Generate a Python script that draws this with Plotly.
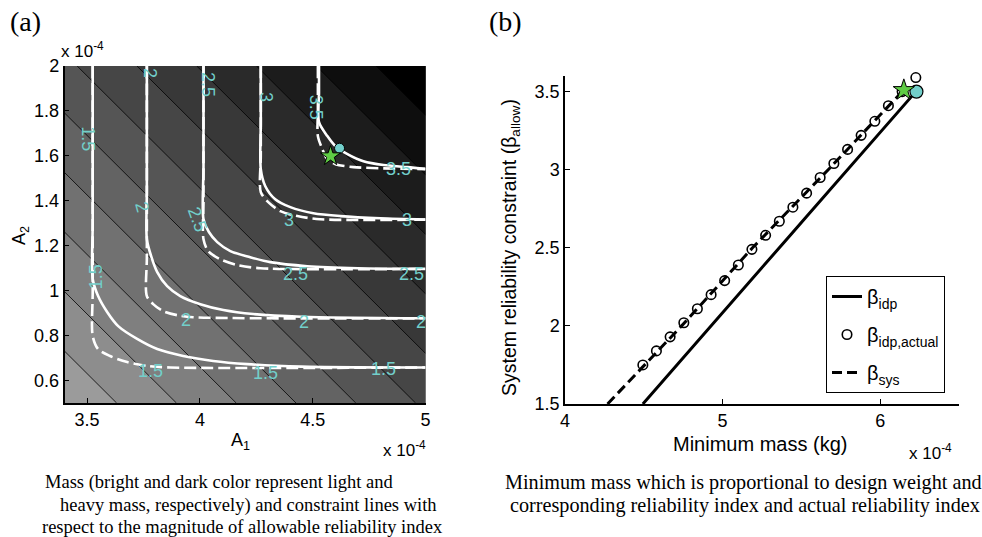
import plotly.graph_objects as go

# ---------------- Panel (a) data (areas in units of 1e-4) ----------------
a1_grid = [3.4, 5.0]
a2_grid = [0.5, 2.0]
mass_grid = [[3.9, 5.5],
             [5.4, 7.0]]           # mass field at grid corners (rows: A2)
mass_level_start = 4.131
mass_level_size = 0.265
mass_level_end = 6.781

# constraint lines: (A1, A2) traced points, solid = beta_idp, dashed = beta_sys
beta_levels = ["1.5", "2", "2.5", "3", "3.5"]
solid_a1 = {
    "1.5": [3.525, 3.525, 3.525, 3.549, 3.589, 3.638, 3.722, 3.811, 3.926, 4.059, 4.210, 4.45, 5.0],
    "2":   [3.765, 3.765, 3.765, 3.784, 3.811, 3.855, 3.913, 4.002, 4.104, 4.237, 4.45, 5.0],
    "2.5": [4.016, 4.016, 4.016, 4.040, 4.077, 4.135, 4.223, 4.312, 4.476, 4.70, 5.0],
    "3":   [4.270, 4.270, 4.270, 4.290, 4.334, 4.401, 4.503, 4.623, 4.80, 5.0],
    "3.5": [4.528, 4.528, 4.528, 4.565, 4.601, 4.654, 4.725, 4.814, 4.920, 5.0],
}
solid_a2 = {
    "1.5": [2.0, 1.30, 1.052, 0.976, 0.905, 0.842, 0.785, 0.740, 0.709, 0.687, 0.673, 0.662, 0.658],
    "2":   [2.0, 1.45, 1.229, 1.154, 1.083, 1.020, 0.976, 0.940, 0.914, 0.896, 0.884, 0.877],
    "2.5": [2.0, 1.55, 1.318, 1.261, 1.216, 1.176, 1.149, 1.127, 1.109, 1.100, 1.097],
    "3":   [2.0, 1.75, 1.541, 1.465, 1.407, 1.372, 1.345, 1.332, 1.322, 1.317],
    "3.5": [2.0, 1.88, 1.750, 1.688, 1.643, 1.608, 1.576, 1.559, 1.550, 1.542],
}
dashed_a1 = {
    "1.5": [3.525, 3.525, 3.525, 3.549, 3.602, 3.678, 3.766, 3.868, 5.0],
    "2":   [3.765, 3.765, 3.765, 3.793, 3.837, 3.899, 3.970, 5.0],
    "2.5": [4.016, 4.016, 4.016, 4.037, 4.090, 4.166, 4.268, 5.0],
    "3":   [4.270, 4.270, 4.270, 4.303, 4.357, 4.432, 4.534, 5.0],
    "3.5": [4.523, 4.523, 4.523, 4.543, 4.565, 4.601, 4.681, 5.0],
}
dashed_a2 = {
    "1.5": [2.0, 1.00, 0.798, 0.740, 0.709, 0.682, 0.665, 0.658, 0.658],
    "2":   [2.0, 1.15, 0.976, 0.940, 0.909, 0.891, 0.882, 0.877],
    "2.5": [2.0, 1.40, 1.229, 1.176, 1.140, 1.114, 1.100, 1.097],
    "3":   [2.0, 1.60, 1.439, 1.394, 1.354, 1.332, 1.318, 1.316],
    "3.5": [2.0, 1.80, 1.688, 1.630, 1.585, 1.563, 1.550, 1.541],
}
# contour-label positions (A1, A2, text, angle)
label_a1 = [3.504, 3.540, 3.780, 4.290, 4.814, 3.780, 3.744, 3.939, 4.463, 4.978,
            4.037, 3.988, 4.423, 4.938, 4.290, 4.397, 4.920, 4.512, 4.880]
label_a2 = [1.674, 1.060, 0.642, 0.633, 0.651, 1.968, 1.372, 0.869, 0.860, 0.860,
            1.919, 1.318, 1.074, 1.074, 1.861, 1.313, 1.313, 1.817, 1.541]
label_txt = ["1.5", "1.5", "1.5", "1.5", "1.5", "2", "2", "2", "2", "2",
             "2.5", "2.5", "2.5", "2.5", "3", "3", "3", "3.5", "3.5"]
label_ang = [90, -90, 0, 0, 0, 90, 75, 0, 0, 0,
             90, 70, 0, 0, 90, 0, 0, 90, 0]
opt_star_a = (4.579, 1.599)
opt_dot_a = (4.619, 1.634)

# ---------------- Panel (b) data (mass in units of 1e-4 kg) ----------------
beta_allow = [1.5, 1.6, 1.7, 1.8, 1.9, 2.0, 2.1, 2.2, 2.3, 2.4, 2.5,
              2.6, 2.7, 2.8, 2.9, 3.0, 3.1, 3.2, 3.3, 3.4, 3.5]
mass_idp = [4.494, 4.580, 4.667, 4.754, 4.840, 4.927, 5.013, 5.100, 5.186, 5.273, 5.360,
            5.446, 5.533, 5.619, 5.706, 5.793, 5.879, 5.966, 6.052, 6.139, 6.226]
beta_actual = [1.75, 1.84, 1.93, 2.02, 2.11, 2.20, 2.29, 2.39, 2.49, 2.58, 2.67,
               2.76, 2.85, 2.95, 3.04, 3.13, 3.22, 3.31, 3.41, 3.50, 3.59]
beta_sys_pts = [1.5, 2.0, 2.5, 3.0, 3.5]
mass_sys = [4.27, 4.74, 5.19, 5.67, 6.14]
opt_star_b = (6.15, 3.51)
opt_dot_b = (6.23, 3.50)

W, H = 982, 537
SANS = "Liberation Sans, Arial, sans-serif"
SERIF = "Liberation Serif, Times New Roman, serif"
CYAN = "#72cfca"
GREEN = "#5fcc45"

fig = go.Figure()

fig.add_trace(go.Contour(
    x=a1_grid, y=a2_grid, z=mass_grid,
    contours=dict(start=mass_level_start, end=mass_level_end, size=mass_level_size,
                  coloring="fill", showlines=True),
    line=dict(color="black", width=0.8),
    colorscale=[[0, "rgb(155,155,155)"], [1, "rgb(0,0,0)"]],
    showscale=False, hoverinfo="skip", xaxis="x", yaxis="y", showlegend=False))

for lv in beta_levels:
    fig.add_trace(go.Scatter(x=solid_a1[lv], y=solid_a2[lv], mode="lines",
                             line=dict(color="white", width=2.6, shape="spline", smoothing=0.8),
                             xaxis="x", yaxis="y", showlegend=False, hoverinfo="skip"))
    fig.add_trace(go.Scatter(x=dashed_a1[lv], y=dashed_a2[lv], mode="lines",
                             line=dict(color="white", width=2.6, dash="12px,5px",
                                       shape="spline", smoothing=0.8),
                             xaxis="x", yaxis="y", showlegend=False, hoverinfo="skip"))

fig.add_trace(go.Scatter(x=[opt_dot_a[0]], y=[opt_dot_a[1]], mode="markers",
                         marker=dict(symbol="circle", size=10, color=CYAN,
                                     line=dict(color="black", width=1)),
                         xaxis="x", yaxis="y", showlegend=False, hoverinfo="skip"))
fig.add_trace(go.Scatter(x=[opt_star_a[0]], y=[opt_star_a[1]], mode="markers",
                         marker=dict(symbol="star", size=15, color=GREEN,
                                     line=dict(color="black", width=1)),
                         xaxis="x", yaxis="y", showlegend=False, hoverinfo="skip"))

# ---- panel (b)
fig.add_trace(go.Scatter(x=mass_idp, y=beta_actual, mode="markers",
                         name="β<sub>idp,actual</sub>", legendrank=2, legendgroup="g2",
                         marker=dict(symbol="circle", size=9.5, color="white",
                                     line=dict(color="black", width=1.6)),
                         cliponaxis=False, xaxis="x2", yaxis="y2"))
fig.add_trace(go.Scatter(x=mass_idp, y=beta_allow, mode="lines",
                         name="β<sub>idp</sub>", legendrank=1, legendgroup="g1",
                         line=dict(color="black", width=3),
                         xaxis="x2", yaxis="y2"))
fig.add_trace(go.Scatter(x=mass_sys, y=beta_sys_pts, mode="lines",
                         name="β<sub>sys</sub>", legendrank=3, legendgroup="g3",
                         line=dict(color="black", width=3, dash="10px,5px"),
                         xaxis="x2", yaxis="y2"))
fig.add_trace(go.Scatter(x=[opt_dot_b[0]], y=[opt_dot_b[1]], mode="markers",
                         marker=dict(symbol="circle", size=13, color=CYAN,
                                     line=dict(color="black", width=1.2)),
                         cliponaxis=False, xaxis="x2", yaxis="y2", showlegend=False,
                         hoverinfo="skip"))
fig.add_trace(go.Scatter(x=[opt_star_b[0]], y=[opt_star_b[1]], mode="markers",
                         marker=dict(symbol="star", size=16, color=GREEN,
                                     line=dict(color="black", width=1)),
                         cliponaxis=False, xaxis="x2", yaxis="y2", showlegend=False,
                         hoverinfo="skip"))

axis_common = dict(showline=True, linecolor="black", linewidth=1.5, ticks="inside",
                   ticklen=5, tickcolor="black", showgrid=False, zeroline=False,
                   tickfont=dict(family=SANS, size=18, color="black"), mirror=False)

fig.update_layout(
    width=W, height=H, margin=dict(l=0, r=0, t=0, b=0, autoexpand=False),
    paper_bgcolor="white", plot_bgcolor="white",
    xaxis=dict(domain=[64.5 / W, 425.5 / W], range=[3.4, 5.0],
               tickvals=[3.5, 4, 4.5, 5], ticktext=["3.5", "4", "4.5", "5"], **axis_common),
    yaxis=dict(domain=[(H - 403) / H, (H - 66) / H], range=[0.5, 2.0],
               tickvals=[0.6, 0.8, 1.0, 1.2, 1.4, 1.6, 1.8, 2.0],
               ticktext=["0.6", "0.8", "1", "1.2", "1.4", "1.6", "1.8", "2"], **axis_common),
    xaxis2=dict(domain=[565 / W, 959 / W], range=[4, 6.5], anchor="y2",
                tickvals=[4, 5, 6], ticktext=["4", "5", "6"], **axis_common),
    yaxis2=dict(domain=[(H - 404) / H, (H - 76) / H], range=[1.5, 3.6], anchor="x2",
                tickvals=[1.5, 2, 2.5, 3, 3.5], ticktext=["1.5", "2", "2.5", "3", "3.5"],
                **axis_common),
    legend=dict(x=826 / W, y=(H - 276) / H, xanchor="left", yanchor="top",
                bgcolor="white", bordercolor="black", borderwidth=1,
                font=dict(family=SANS, size=20, color="black"),
                traceorder="grouped", tracegroupgap=9),
    showlegend=True,
)

ann = []
for xa, ya, t, ang in zip(label_a1, label_a2, label_txt, label_ang):
    ann.append(dict(x=xa, y=ya, xref="x", yref="y", text=t, showarrow=False,
                    textangle=ang, font=dict(family=SANS, size=18, color=CYAN)))

def pa(x, y, text, size=18, family=SANS, angle=0, xanchor="center"):
    ann.append(dict(x=x / W, y=(H - y) / H, xref="paper", yref="paper", text=text,
                    showarrow=False, textangle=angle, xanchor=xanchor, yanchor="middle",
                    font=dict(family=family, size=size, color="black")))

pa(240, 441, "A<sub>1</sub>")
pa(20, 236, "A<sub>2</sub>", angle=-90)
pa(82, 50, "x 10<sup>-4</sup>", size=17)
pa(404, 449, "x 10<sup>-4</sup>", size=17)
pa(930, 452, "x 10<sup>-4</sup>", size=17)
pa(760, 444, "Minimum mass (kg)", size=20)
pa(511, 248, "System reliability constraint (β<sub>allow</sub>)", size=19.5, angle=-90)
pa(25, 21, "(a)", size=28, family=SERIF)
pa(505, 21, "(b)", size=28, family=SERIF)

pa(43, 482, "Mass (bright and dark color represent light and", size=18.5, family=SERIF, xanchor="left")
pa(58, 505, "heavy mass, respectively) and constraint lines with", size=18.5, family=SERIF, xanchor="left")
pa(40, 527, "respect to the magnitude of allowable reliability index", size=18.5, family=SERIF, xanchor="left")
pa(503, 482, "Minimum mass which is proportional to design weight and", size=20.2, family=SERIF, xanchor="left")
pa(508, 505, "corresponding reliability index and actual reliability index", size=20.2, family=SERIF, xanchor="left")

fig.update_layout(annotations=ann)
fig.write_html("out.html")
